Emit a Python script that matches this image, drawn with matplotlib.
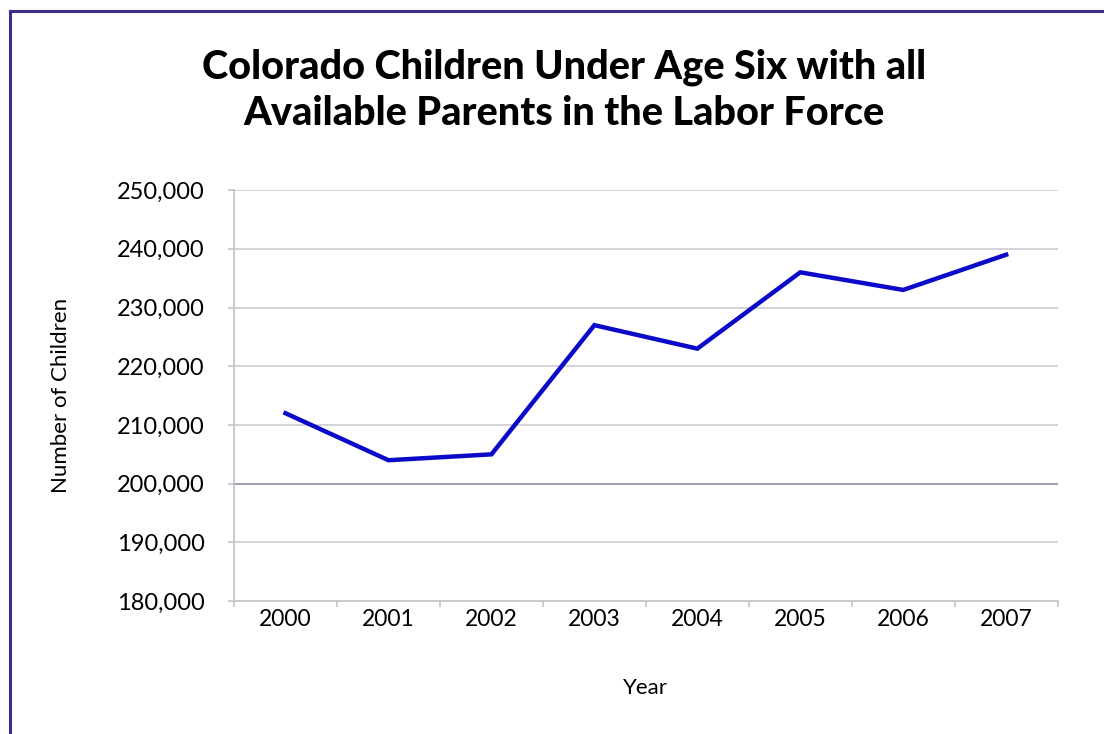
import matplotlib
matplotlib.use("Agg")
import matplotlib.pyplot as plt
from matplotlib.lines import Line2D
from matplotlib.ticker import FuncFormatter, FixedLocator, NullFormatter

years = ["2000", "2001", "2002", "2003", "2004", "2005", "2006", "2007"]
children = [212000, 204000, 205000, 227000, 223000, 236000, 233000, 239000]
y_ticks = [180000, 190000, 200000, 210000, 220000, 230000, 240000, 250000]

plt.rcParams['font.family'] = ['Lato', 'DejaVu Sans']

fig = plt.figure(figsize=(11.04, 7.34), dpi=100)
ax = fig.add_axes([0.212, 0.181, 0.746, 0.560])

x = range(len(years))
ax.plot(x, children, color="#0a0ac8", lw=3.2, solid_joinstyle="miter", zorder=3)

ax.set_xlim(-0.5, len(years) - 0.5)
ax.set_ylim(y_ticks[0], y_ticks[-1])
ax.set_yticks(y_ticks)
ax.yaxis.set_major_formatter(FuncFormatter(lambda v, p: f"{int(v):,}"))
ax.set_xticks(list(x))
ax.set_xticklabels(years)
ax.tick_params(axis="x", length=0, labelsize=16.5, pad=6)
ax.xaxis.set_minor_locator(FixedLocator([i - 0.5 for i in range(len(years) + 1)]))
ax.xaxis.set_minor_formatter(NullFormatter())
ax.tick_params(axis="x", which="minor", length=4.5, color="#c4c4cc", width=1.2)
ax.tick_params(axis="y", length=4, color="#c4c4cc", width=1.2, labelsize=17, pad=17)

for v in y_ticks[1:]:
    c = "#9a96a8" if v == 200000 else "#cfcfd6"
    ax.axhline(v, color=c, lw=1.3, zorder=1)

for s in ["top", "right"]:
    ax.spines[s].set_visible(False)
for s in ["left", "bottom"]:
    ax.spines[s].set_color("#c4c4cc")
    ax.spines[s].set_linewidth(1.3)

ax.set_ylabel("Number of Children", fontsize=16, labelpad=33)
ax.set_xlabel("Year", fontsize=16, labelpad=34)

fig.text(0.511, 0.908, "Colorado Children Under Age Six with all",
         ha="center", va="center", fontsize=28.5, fontweight="black")
fig.text(0.511, 0.845, "Available Parents in the Labor Force",
         ha="center", va="center", fontsize=28.5, fontweight="black")

# frame around the chart (top and left edges visible)
fig.add_artist(Line2D([10 / 1104, 1.0], [1 - 11 / 734] * 2, color="#3a2f8f", lw=2.2,
                      transform=fig.transFigure))
fig.add_artist(Line2D([10 / 1104] * 2, [0.0, 1 - 11 / 734], color="#3a2f8f", lw=2.2,
                      transform=fig.transFigure))

fig.savefig("out.png", dpi=100)
